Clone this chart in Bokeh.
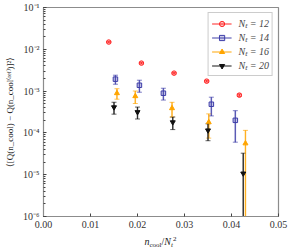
import numpy as np
from bokeh.plotting import figure
from bokeh.layouts import column
from bokeh.models import (CustomJSTickFormatter, FixedTicker, Legend, LegendItem,
                          Whisker, ColumnDataSource, TeeHead, Div)
from bokeh.embed import file_html
from bokeh.resources import INLINE

# ---- data ----
nt_labels = ["Nₜ = 12", "Nₜ = 14", "Nₜ = 16", "Nₜ = 20"]
x12 = [2/144, 3/144, 4/144, 5/144, 6/144]
y12 = [0.0149, 0.00467, 0.00269, 0.00173, 0.00080]
e12 = [0.0006, 0.0002, 0.00012, 0.00008, 0.00005]

x14 = [3/196, 4/196, 5/196, 7/196, 8/196]
y14 = [0.00193, 0.00138, 0.00089, 0.000485, 0.00020]
e14 = [0.00047, 0.00044, 0.00028, 0.00023, 0.00014]

x16 = [4/256, 5/256, 7/256, 9/256, 11/256]
y16 = [0.00089, 0.000755, 0.000389, 0.00018, 0.000056]
e16 = [0.00025, 0.00025, 0.00015, 0.000105, 0.000059]

x20 = [6/400, 8/400, 11/400, 14/400, 17/400]
y20 = [0.000411, 0.000315, 0.00018, 0.000115, 0.0000107]
e20 = [0.00013, 0.0001, 0.00006, 0.00005, 0.000022]

x_ticks = [0.0, 0.01, 0.02, 0.03, 0.04, 0.05]
SUB = '<span style="font-size:7px;vertical-align:-2px;line-height:0;">'
SUP = '<span style="font-size:7px;vertical-align:4px;line-height:0;">'
x_label_html = ("<i>n</i>" + SUB + "cool</span>/<i>N</i>" + SUB + "<i>t</i></span>"
                + SUP + "2</span>")
y_label = "⟨[Q(n_cool) − Q(n_cool⁽ʳᵉᶠ⁾)]²⟩"

FONT = "Liberation Serif"
GRAY = "#8c8c8c"

p = figure(width=291, height=233, x_range=(0, 0.05), y_range=(1e-6, 1e-1),
           y_axis_type="log", output_backend="svg", toolbar_location=None,
           min_border_left=43, min_border_right=13, min_border_top=7,
           min_border_bottom=17)
p.grid.visible = False
p.outline_line_color = GRAY
p.outline_line_width = 1.2
p.background_fill_color = "white"

for ax in (p.xaxis[0], p.yaxis[0]):
    ax.axis_line_color = GRAY
    ax.major_tick_in = 3
    ax.major_tick_out = 0
    ax.minor_tick_in = 2
    ax.minor_tick_out = 0
    ax.major_tick_line_color = "#444444"
    ax.minor_tick_line_color = "#444444"
    ax.major_label_text_font = FONT
    ax.major_label_text_font_size = "10px"
    ax.major_label_text_color = "#333333"
    ax.axis_label_text_font = FONT
    ax.axis_label_text_font_size = "9px"
    ax.axis_label_text_font_style = "normal"
    ax.axis_label_text_color = "#222222"

p.xaxis.ticker = FixedTicker(ticks=x_ticks)
p.xaxis.formatter = CustomJSTickFormatter(code="return tick.toFixed(2);")
p.xaxis.major_label_standoff = 4

p.yaxis.ticker.num_minor_ticks = 10
p.yaxis.formatter = CustomJSTickFormatter(code="""
const sup = {'-':'⁻','0':'⁰','1':'¹','2':'²','3':'³','4':'⁴','5':'⁵','6':'⁶','7':'⁷','8':'⁸','9':'⁹'};
const e = Math.round(Math.log10(tick));
return '10' + String(e).split('').map(c => sup[c]).join('');
""")
p.yaxis.major_label_standoff = 4
p.yaxis.axis_label = y_label
p.yaxis.axis_label_standoff = 5

series = [
    (x12, y12, e12, "#ff2020", "circle", 0.25, 4.5),
    (x14, y14, e14, "#3c3ca8", "square", 0.25, 4.5),
    (x16, y16, e16, "#ffa500", "triangle", 1.0, 5),
    (x20, y20, e20, "#111111", "inverted_triangle", 1.0, 5),
]

items = []
for (xs, ys, es, col, mk, fa, sz), lab in zip(series, nt_labels):
    xs = np.array(xs); ys = np.array(ys); es = np.array(es)
    lo = np.maximum(ys - es, 1e-8)
    hi = ys + es
    src = ColumnDataSource(dict(x=xs, y=ys, lo=lo, hi=hi))
    seg = p.segment(x0="x", y0="lo", x1="x", y1="hi", source=src,
                    line_color=col, line_alpha=0.65, line_width=1.5)
    w = Whisker(base="x", lower="lo", upper="hi", source=src, dimension="height",
                line_color=col, line_alpha=0.65, line_width=1,
                upper_head=TeeHead(size=5, line_color=col, line_alpha=0.65),
                lower_head=TeeHead(size=5, line_color=col, line_alpha=0.65))
    p.add_layout(w)
    r = p.scatter(x="x", y="y", source=src, marker=mk, size=sz, line_color=col,
                  fill_color=col, fill_alpha=fa, line_width=1)
    items.append(LegendItem(label=lab, renderers=[seg, r]))

leg = Legend(items=items, location="top_right")
leg.label_text_font = FONT
leg.label_text_font_size = "10px"
leg.label_text_font_style = "italic"
leg.label_height = 13
leg.glyph_height = 13
leg.glyph_width = 20
leg.spacing = 0
leg.padding = 3
leg.margin = 5
leg.label_standoff = 7
leg.border_line_color = "#cccccc"
leg.border_line_alpha = 1.0
leg.background_fill_alpha = 0.9
p.add_layout(leg)

xdiv = Div(text=('<div style="width:321px;text-align:center;padding-top:1px;'
                 'font-family:\'Liberation Serif\';font-size:10px;line-height:10px;'
                 'color:#222222;white-space:nowrap;">'
                 + x_label_html + '</div>'),
           width=291, height=14, margin=(0, 0, 0, 0))

layout = column(p, xdiv, spacing=0)
open("out.html", "w").write(file_html(layout, INLINE))
